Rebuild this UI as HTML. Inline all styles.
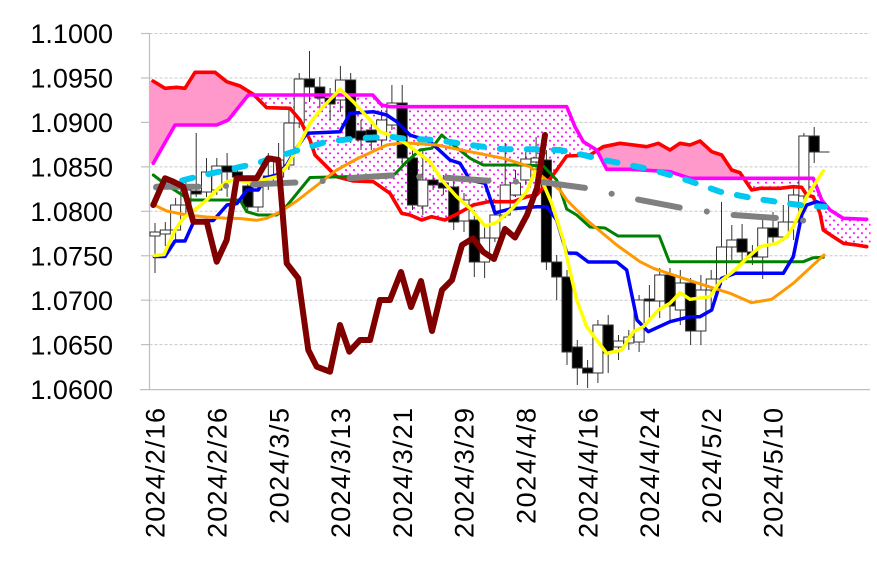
<!DOCTYPE html>
<html><head><meta charset="utf-8"><style>
html,body{margin:0;padding:0;background:#fff;}
svg{display:block;}
text{font-family:"Liberation Sans","Noto Sans CJK JP",sans-serif;fill:#000;}
</style></head><body>
<svg width="877" height="567" viewBox="0 0 877 567" xmlns="http://www.w3.org/2000/svg">
<defs>
<pattern id="dots" width="8" height="8.4" patternUnits="userSpaceOnUse">
<rect width="8" height="8.4" fill="#fff"/>
<circle cx="2" cy="2.1" r="1.05" fill="#ff00ff"/>
<circle cx="6" cy="6.3" r="1.05" fill="#ff00ff"/>
</pattern>
</defs>
<rect width="877" height="567" fill="#fff"/>
<!-- gridlines -->
<g stroke="#c8c8c8" stroke-width="1" stroke-dasharray="3 2">
<line x1="149.5" y1="33.5" x2="870" y2="33.5"/>
<line x1="149.5" y1="77.95" x2="870" y2="77.95"/>
<line x1="149.5" y1="122.4" x2="870" y2="122.4"/>
<line x1="149.5" y1="166.85" x2="870" y2="166.85"/>
<line x1="149.5" y1="211.3" x2="870" y2="211.3"/>
<line x1="149.5" y1="255.75" x2="870" y2="255.75"/>
<line x1="149.5" y1="300.2" x2="870" y2="300.2"/>
<line x1="149.5" y1="344.65" x2="870" y2="344.65"/>
</g>
<g stroke="#bfbfbf" stroke-width="1.2">
<line x1="149.5" y1="33" x2="149.5" y2="390"/>
<line x1="140" y1="389.6" x2="870" y2="389.6"/>
<line x1="141" y1="33.5" x2="149.5" y2="33.5"/>
<line x1="141" y1="77.95" x2="149.5" y2="77.95"/>
<line x1="141" y1="122.4" x2="149.5" y2="122.4"/>
<line x1="141" y1="166.85" x2="149.5" y2="166.85"/>
<line x1="141" y1="211.3" x2="149.5" y2="211.3"/>
<line x1="141" y1="255.75" x2="149.5" y2="255.75"/>
<line x1="141" y1="300.2" x2="149.5" y2="300.2"/>
<line x1="141" y1="344.65" x2="149.5" y2="344.65"/>
</g>
<!-- y labels -->
<g font-size="27" text-anchor="end">
<text x="113" y="43.2">1.1000</text>
<text x="113" y="87.6">1.0950</text>
<text x="113" y="132.1">1.0900</text>
<text x="113" y="176.5">1.0850</text>
<text x="113" y="221">1.0800</text>
<text x="113" y="265.4">1.0750</text>
<text x="113" y="309.9">1.0700</text>
<text x="113" y="354.3">1.0650</text>
<text x="113" y="398.8">1.0600</text>
</g>
<!-- x labels -->
<g font-size="27" text-anchor="end">
<text transform="translate(164.7,408) rotate(-90)" textLength="130">2024/2/16</text>
<text transform="translate(226.5,408) rotate(-90)" textLength="130">2024/2/26</text>
<text transform="translate(288.3,408) rotate(-90)" textLength="116">2024/3/5</text>
<text transform="translate(350.1,408) rotate(-90)" textLength="130">2024/3/13</text>
<text transform="translate(411.9,408) rotate(-90)" textLength="130">2024/3/21</text>
<text transform="translate(473.7,408) rotate(-90)" textLength="130">2024/3/29</text>
<text transform="translate(535.5,408) rotate(-90)" textLength="116">2024/4/8</text>
<text transform="translate(597.3,408) rotate(-90)" textLength="130">2024/4/16</text>
<text transform="translate(659.1,408) rotate(-90)" textLength="130">2024/4/24</text>
<text transform="translate(720.9,408) rotate(-90)" textLength="116">2024/5/2</text>
<text transform="translate(782.7,408) rotate(-90)" textLength="130">2024/5/10</text>
</g>
<!-- cloud fills -->
<path fill="#ff99cc" d="M149.5,81 L153,81 L165,88 L176.7,87.3 L185,88 L195,72.3 L215,72.3 L226.7,81.7 L240,86 L253,95 L248.3,95 L228.3,120 L216.7,125 L175,125 L153.3,163.3 L149.5,163.3 Z"/>
<path fill="url(#dots)" d="M253,95 L372.7,95 L381.7,105 L390,106.7 L566.7,106.7 L575,126.7 L583.3,141.7 L596.7,150 L598,151 L590,155 L566.7,156 L556.7,170 L546.7,183.3 L536.7,195 L526.7,196.7 L513.3,201.7 L488.3,201.7 L473.3,205 L458.3,213.3 L445,220 L431.7,216.7 L421.7,220 L410,215 L401.7,213.3 L390,193.3 L373.3,181.7 L353.3,181 L336.7,176.7 L323.3,163.3 L315,155 L310,140 L300,120 L290,108.3 L266.7,107.7 L253.3,94.3 Z"/>
<path fill="#ff99cc" d="M598,151 L603.3,146.7 L620,143.3 L646.7,146.7 L658.3,143.3 L670,150 L680,143.3 L690,145 L700,141 L711.7,151.7 L721.7,155 L731.7,170 L740,172.7 L744,178.3 L690,178.3 L670,171.7 L630,169.3 L606.7,169.3 Z"/>
<path fill="url(#dots)" d="M744,178.3 L813.3,178.3 L821.7,200 L830,210 L843.3,218.3 L866.7,219.3 L870.5,219.3 L870.5,247 L866.7,246.7 L856.7,245 L843.3,243.3 L833.3,236.7 L823.3,230 L820,213.3 L813.3,196.7 L806.7,195 L801.7,187.3 L793.3,186.7 L780,188.3 L760,188.3 L751.7,190 Z"/>
<!-- candles -->
<g stroke="#333" stroke-width="1">
<line x1="155" y1="223" x2="155" y2="273"/><rect x="150" y="232" width="10" height="4" fill="#fff"/>
<line x1="165.3" y1="222" x2="165.3" y2="246"/><rect x="160.3" y="230" width="10" height="4" fill="#fff"/>
<line x1="175.6" y1="198" x2="175.6" y2="240"/><rect x="170.6" y="205" width="10" height="25" fill="#fff"/>
<line x1="185.9" y1="182" x2="185.9" y2="215"/><rect x="180.9" y="190" width="10" height="15" fill="#fff"/>
<line x1="196.2" y1="133" x2="196.2" y2="197"/><rect x="191.2" y="191" width="10" height="3" fill="#000"/>
<line x1="206.5" y1="158" x2="206.5" y2="197"/><rect x="201.5" y="172" width="10" height="20" fill="#fff"/>
<line x1="216.8" y1="158" x2="216.8" y2="195"/><rect x="211.8" y="166" width="10" height="24" fill="#fff"/>
<line x1="227.1" y1="153" x2="227.1" y2="197"/><rect x="222.1" y="166" width="10" height="6" fill="#000"/>
<line x1="237.4" y1="165" x2="237.4" y2="184"/><rect x="232.4" y="172" width="10" height="5" fill="#000"/>
<line x1="247.7" y1="180" x2="247.7" y2="213"/><rect x="242.7" y="186" width="10" height="21" fill="#000"/>
<line x1="258" y1="180" x2="258" y2="212"/><rect x="253" y="187" width="10" height="20" fill="#fff"/>
<line x1="268.3" y1="153" x2="268.3" y2="190"/><rect x="263.3" y="176" width="10" height="10" fill="#fff"/>
<line x1="278.6" y1="143" x2="278.6" y2="185"/><rect x="273.6" y="160" width="10" height="17" fill="#fff"/>
<line x1="288.9" y1="107" x2="288.9" y2="170"/><rect x="283.9" y="123" width="10" height="42" fill="#fff"/>
<line x1="299.2" y1="73" x2="299.2" y2="128"/><rect x="294.2" y="79" width="10" height="44" fill="#fff"/>
<line x1="309.5" y1="51" x2="309.5" y2="102"/><rect x="304.5" y="79" width="10" height="8" fill="#000"/>
<line x1="319.8" y1="77" x2="319.8" y2="110"/><rect x="314.8" y="87" width="10" height="11" fill="#000"/>
<line x1="330.1" y1="88" x2="330.1" y2="120"/><rect x="325.1" y="98" width="10" height="6" fill="#000"/>
<line x1="340.4" y1="66" x2="340.4" y2="112"/><rect x="335.4" y="80" width="10" height="20" fill="#fff"/>
<line x1="350.7" y1="73" x2="350.7" y2="143"/><rect x="345.7" y="80" width="10" height="58" fill="#000"/>
<line x1="361" y1="120" x2="361" y2="150"/><rect x="356" y="131" width="10" height="9" fill="#000"/>
<line x1="371.3" y1="122" x2="371.3" y2="150"/><rect x="366.3" y="130" width="10" height="12" fill="#000"/>
<line x1="381.6" y1="110" x2="381.6" y2="148"/><rect x="376.6" y="120" width="10" height="20" fill="#fff"/>
<line x1="391.9" y1="85" x2="391.9" y2="130"/><rect x="386.9" y="103" width="10" height="22" fill="#fff"/>
<line x1="402.2" y1="85" x2="402.2" y2="168"/><rect x="397.2" y="103" width="10" height="55" fill="#000"/>
<line x1="412.5" y1="150" x2="412.5" y2="210"/><rect x="407.5" y="158" width="10" height="47" fill="#000"/>
<line x1="422.8" y1="150" x2="422.8" y2="215"/><rect x="417.8" y="180" width="10" height="26" fill="#fff"/>
<line x1="433.1" y1="175" x2="433.1" y2="190"/><rect x="428.1" y="180" width="10" height="5" fill="#000"/>
<line x1="443.4" y1="175" x2="443.4" y2="195"/><rect x="438.4" y="183" width="10" height="5" fill="#000"/>
<line x1="453.7" y1="178" x2="453.7" y2="230"/><rect x="448.7" y="187" width="10" height="35" fill="#000"/>
<line x1="464" y1="193" x2="464" y2="232"/><rect x="459" y="200" width="10" height="21" fill="#fff"/>
<line x1="474.3" y1="210" x2="474.3" y2="277"/><rect x="469.3" y="220" width="10" height="42" fill="#000"/>
<line x1="484.6" y1="225" x2="484.6" y2="278"/><rect x="479.6" y="238" width="10" height="24" fill="#fff"/>
<line x1="494.9" y1="205" x2="494.9" y2="242"/><rect x="489.9" y="215" width="10" height="23" fill="#fff"/>
<line x1="505.2" y1="143" x2="505.2" y2="218"/><rect x="500.2" y="185" width="10" height="30" fill="#fff"/>
<line x1="515.5" y1="170" x2="515.5" y2="197"/><rect x="510.5" y="183" width="10" height="12" fill="#fff"/>
<line x1="525.8" y1="150" x2="525.8" y2="185"/><rect x="520.8" y="159" width="10" height="21" fill="#fff"/>
<line x1="536.1" y1="137" x2="536.1" y2="170"/><rect x="531.1" y="158" width="10" height="4" fill="#fff"/>
<line x1="546.4" y1="150" x2="546.4" y2="270"/><rect x="541.4" y="160" width="10" height="102" fill="#000"/>
<line x1="556.7" y1="255" x2="556.7" y2="300"/><rect x="551.7" y="262" width="10" height="15" fill="#000"/>
<line x1="567" y1="270" x2="567" y2="365"/><rect x="562" y="277" width="10" height="75" fill="#000"/>
<line x1="577.3" y1="340" x2="577.3" y2="385"/><rect x="572.3" y="347" width="10" height="21" fill="#000"/>
<line x1="587.6" y1="360" x2="587.6" y2="388"/><rect x="582.6" y="368" width="10" height="5" fill="#000"/>
<line x1="597.9" y1="320" x2="597.9" y2="383"/><rect x="592.9" y="325" width="10" height="48" fill="#fff"/>
<line x1="608.2" y1="315" x2="608.2" y2="373"/><rect x="603.2" y="325" width="10" height="28" fill="#000"/>
<line x1="618.5" y1="335" x2="618.5" y2="360"/><rect x="613.5" y="341" width="10" height="6" fill="#fff"/>
<line x1="628.8" y1="330" x2="628.8" y2="350"/><rect x="623.8" y="337" width="10" height="6" fill="#fff"/>
<line x1="639.1" y1="295" x2="639.1" y2="352"/><rect x="634.1" y="300" width="10" height="42" fill="#fff"/>
<line x1="649.4" y1="285" x2="649.4" y2="320"/><rect x="644.4" y="299" width="10" height="2" fill="#000"/>
<line x1="659.7" y1="268" x2="659.7" y2="318"/><rect x="654.7" y="275" width="10" height="26" fill="#fff"/>
<line x1="670" y1="268" x2="670" y2="320"/><rect x="665" y="275" width="10" height="31" fill="#000"/>
<line x1="680.3" y1="270" x2="680.3" y2="325"/><rect x="675.3" y="283" width="10" height="27" fill="#fff"/>
<line x1="690.6" y1="278" x2="690.6" y2="345"/><rect x="685.6" y="283" width="10" height="48" fill="#000"/>
<line x1="700.9" y1="275" x2="700.9" y2="345"/><rect x="695.9" y="290" width="10" height="41" fill="#fff"/>
<line x1="711.2" y1="270" x2="711.2" y2="310"/><rect x="706.2" y="279" width="10" height="11" fill="#fff"/>
<line x1="721.5" y1="202" x2="721.5" y2="285"/><rect x="716.5" y="247" width="10" height="32" fill="#fff"/>
<line x1="731.8" y1="225" x2="731.8" y2="260"/><rect x="726.8" y="240" width="10" height="7" fill="#fff"/>
<line x1="742.1" y1="224" x2="742.1" y2="262"/><rect x="737.1" y="239" width="10" height="13" fill="#000"/>
<line x1="752.4" y1="245" x2="752.4" y2="265"/><rect x="747.4" y="252" width="10" height="5" fill="#000"/>
<line x1="762.7" y1="220" x2="762.7" y2="279"/><rect x="757.7" y="228" width="10" height="29" fill="#fff"/>
<line x1="773" y1="212" x2="773" y2="245"/><rect x="768" y="228" width="10" height="9" fill="#000"/>
<line x1="783.3" y1="205" x2="783.3" y2="241"/><rect x="778.3" y="222" width="10" height="15" fill="#fff"/>
<line x1="793.6" y1="188" x2="793.6" y2="240"/><rect x="788.6" y="195" width="10" height="27" fill="#fff"/>
<line x1="803.9" y1="133" x2="803.9" y2="205"/><rect x="798.9" y="136" width="10" height="60" fill="#fff"/>
<line x1="814.2" y1="127" x2="814.2" y2="163"/><rect x="809.2" y="136" width="10" height="16" fill="#000"/>
<line x1="819.5" y1="152" x2="829.5" y2="152"/>
</g>
<!-- cloud lines -->
<g fill="none" stroke-linejoin="round" stroke-linecap="round">
<path stroke="#ff0000" stroke-width="3.6" d="M153,81 L165,88.3 L176.7,87.3 L185,88.3 L195,72.3 L215,72.3 L226.7,81.7 L240,86 L253.3,94.3 L266.7,107.7 L290,108.3 L300,120 L310,140 L315,155 L323.3,163.3 L336.7,176.7 L353.3,181 L373.3,181.7 L390,193.3 L401.7,213.3 L410,215 L421.7,220 L431.7,216.7 L445,220 L458.3,213.3 L473.3,205 L488.3,201.7 L513.3,201.7 L526.7,196.7 L536.7,195 L546.7,183.3 L556.7,170 L566.7,156 L590,155 L603.3,146.7 L620,143.3 L646.7,146.7 L658.3,143.3 L670,150 L680,143.3 L690,145 L700,141 L711.7,151.7 L721.7,155 L731.7,170 L740,172.7 L751.7,190 L760,188.3 L780,188.3 L793.3,186.7 L801.7,187.3 L806.7,195 L813.3,196.7 L820,213.3 L823.3,230 L833.3,236.7 L843.3,243.3 L856.7,245 L866.7,246.7"/>
<path stroke="#ff00ff" stroke-width="3.6" d="M153.3,163.3 L175,125 L216.7,125 L228.3,120 L248.3,95 L372.7,95 L381.7,105 L390,106.7 L566.7,106.7 L575,126.7 L583.3,141.7 L596.7,150 L606.7,169.3 L630,169.3 L670,171.7 L690,178.3 L813.3,178.3 L821.7,200 L830,210 L843.3,218.3 L866.7,219.3"/>
<!-- kijun -->
<path stroke="#008000" stroke-width="3" d="M153.3,175 L165,184 L176,191 L190,200 L240,200 L246.7,211.7 L258.3,215 L276.7,215 L286.7,206 L310,177.5 L375,176 L395,174 L406.7,161.7 L420,150 L431.7,148.3 L441.7,135 L453.3,145 L470,158.3 L483.3,165 L523.3,165 L543.3,166 L556.7,180 L562,195 L566.7,209 L576.7,215 L590,227 L605,228 L618,236 L659.3,236 L669.3,261.7 L803.3,261.7 L813.3,257.7 L823.3,257.3"/>
<!-- tenkan -->
<path stroke="#0000ff" stroke-width="3.5" d="M154.3,256.5 L165,256.5 L175,241 L185,241 L194,221 L213.3,220.5 L227,205 L237,203.5 L247,190 L258.3,190 L265,178 L276.7,175 L286.7,165 L296.7,148 L306.7,133.3 L340,131.7 L350,113.3 L373.3,111.7 L386.7,115 L396.7,121.7 L410,135 L430,141.7 L450,160 L460,163.3 L470,180 L485,183.3 L495,213 L510,209 L536.7,206.7 L546.7,206.7 L556.7,220 L566.7,253 L576.7,253.3 L588.3,262 L616.7,262 L626.7,270 L637,320 L648.3,331.7 L670,321.7 L690,316.7 L700,316.7 L711.7,310 L721.7,278.3 L735,273.3 L783.3,273.3 L793.3,256.7 L801.7,215 L806.7,205 L816.7,201.7 L825,205"/>
<!-- orange -->
<path stroke="#ff9900" stroke-width="3" d="M153.3,204.5 L166.7,211 L186.7,215 L206.7,217 L226.7,218.3 L240,218.5 L256.7,220.3 L266.7,218.3 L280,212 L296.7,201 L316.7,185.5 L336.7,170 L356.7,159 L386.7,145 L403.3,142.7 L436.7,145 L470,151.7 L503.3,158.3 L530,166.7 L546.7,180 L560,190 L566.7,200 L586.7,220 L616.7,245 L640,261.7 L653.3,268.3 L673.3,275 L693.3,281.7 L730,293.3 L751.7,302.7 L771.7,299.3 L793.3,283.3 L824,255"/>
<!-- yellow -->
<path stroke="#ffff00" stroke-width="3.5" d="M154.3,255.5 L164,254.5 L175,230 L183.3,218.3 L196.7,208.3 L206.7,200 L218.3,188.3 L226.7,181.7 L236.7,179.3 L250,183.3 L263.3,180 L276.7,176.7 L286.7,166.7 L293.3,155 L303.3,136.7 L310,123.3 L321.7,108.3 L340,89.3 L353.3,101.7 L370,120 L380,131.7 L390,135 L403.3,141.7 L416.7,151.7 L430,161.7 L441.7,180 L456.7,196.7 L470,208.3 L485,226 L496.7,222.5 L513.3,207.5 L526.7,191.7 L535,171.7 L541.7,180 L551.7,203.3 L563.3,240 L566.7,256.7 L576.7,300 L586.7,326.7 L606.7,353.3 L621.7,350 L633.3,331.7 L643.3,326.7 L658.3,310 L670,303.3 L680,292.7 L690,299.3 L710,296.7 L720,281.7 L735,270 L745,260 L760,246.7 L776.7,243.3 L786.7,236.7 L793.3,226.7 L806.7,196.7 L823.3,170.7"/>
<!-- cyan dashed -->
<path stroke="#00c8f0" stroke-width="6" stroke-dasharray="11 16" d="M156,187.5 L196.7,176.7 L256.7,163.3 L293.3,151.7 L326.7,141.7 L356.7,138.3 L390,136.7 L403.3,138.5 L436.7,140 L470,145 L503.3,149.3 L536.7,149.3 L560,150 L583.3,155 L603.3,160 L620,163 L653.3,170 L686.7,180 L720,191.7 L753.3,198.3 L786.7,203.3 L806.7,206 L825,206.7"/>
<!-- gray dash-dot -->
<path stroke="#808080" stroke-width="6" stroke-dasharray="42.4 27.3 0.1 27" d="M156.3,186.7 L201.7,186.7 L226,186 L250,184.5 L296.7,182.5 L322.7,181 L346.7,178.3 L390,175.5 L420,176.7 L445,177.7 L491.7,181 L516.7,181.7 L541.7,182 L588.3,188.3 L612.7,194 L636.7,199.3 L683.3,208.3 L708.3,211.7 L733.3,215 L780,218.3 L805,220.7"/>
<!-- chikou -->
<path stroke="#800000" stroke-width="6" d="M153.3,205 L165,178.3 L173.3,181.7 L183.3,186.7 L193.3,221.7 L206.7,221.7 L216.7,261.7 L226.7,240 L236.7,178.3 L256.7,178.3 L268.3,158.3 L278.3,160 L286.7,263.3 L298.3,278.3 L308.3,350 L316.7,366.7 L330,371.7 L340,325 L349.3,351.7 L360,340 L370,340 L380,300 L390,300 L401,272 L411,307 L421,281 L432,331 L442,290 L452,280 L462,245 L473,238.3 L483.3,252 L494,259 L505,229 L515,237.5 L527,215 L537,188 L545,135"/>
</g>
</svg>
</body></html>
